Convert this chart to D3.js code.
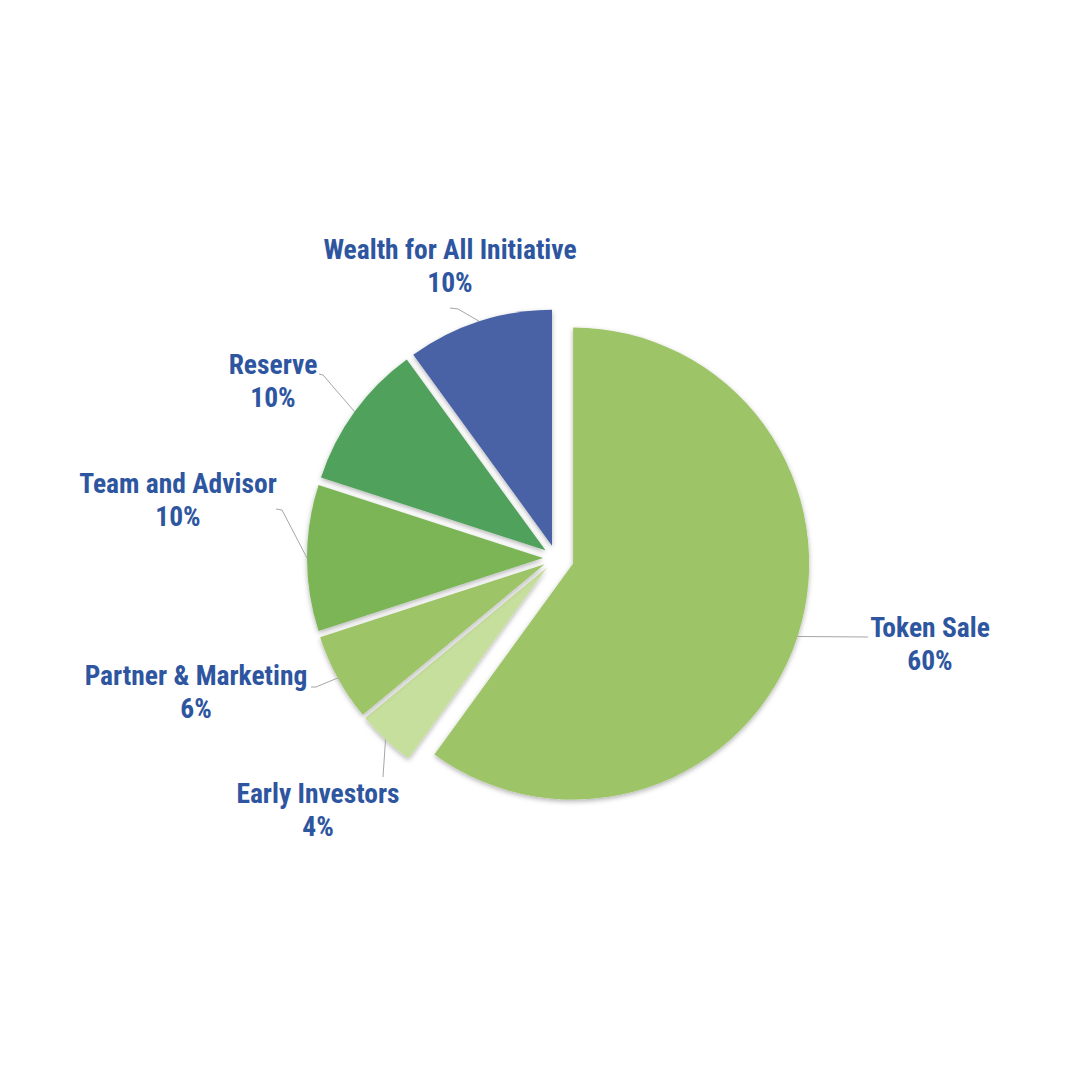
<!DOCTYPE html>
<html>
<head>
<meta charset="utf-8">
<script src="https://cdn.jsdelivr.net/npm/d3@7"></script>
<style>
  html, body { margin: 0; padding: 0; background: #fff; }
  text { font-family: "Liberation Sans Narrow", "Arial Narrow", "Roboto Condensed", sans-serif; font-weight: bold; }
</style>
</head>
<body>
<div id="chart"></div>
<script>
// Data
const categories = ['Token Sale', 'Early Investors', 'Partner & Marketing', 'Team and Advisor', 'Reserve', 'Wealth for All Initiative'];
const shares = [60, 4, 6, 10, 10, 10];
const pctLabels = ['60%', '4%', '6%', '10%', '10%', '10%'];
const colors = ['#9dc466', '#c6df9c', '#9dc466', '#7cb557', '#4fa15c', '#4862a6'];

// Layout (positions only)
const width = 1076;
const height = 1076;
const cx = 556, cy = 558;
const radius = 236;
const explode = [18, 13, 13, 13, 13, 13];
// text centre x, first baseline y, leader end near label, elbow
const labelLayout = [
  { x: 930, y: 637, end: [868, 637], elbow: null },
  { x: 318, y: 803, end: [383, 777], elbow: null },
  { x: 196, y: 685, end: [311, 687], elbow: [316, 687] },
  { x: 178, y: 493, end: [276, 509], elbow: [282, 510] },
  { x: 273, y: 374, end: [319, 374], elbow: [323, 375] },
  { x: 450, y: 259, end: [450, 308], elbow: [458, 309] }
];
const lineGap = 33;
const textColor = '#2e56a0';

const svg = d3.select('#chart').append('svg')
  .attr('width', width)
  .attr('height', height);

const defs = svg.append('defs');
const shadow = defs.append('filter')
  .attr('id', 'shadow')
  .attr('x', '-20%').attr('y', '-20%')
  .attr('width', '140%').attr('height', '140%');
shadow.append('feDropShadow')
  .attr('dx', 0).attr('dy', 2)
  .attr('stdDeviation', 2.5)
  .attr('flood-color', '#000')
  .attr('flood-opacity', 0.3);

const pie = d3.pie().sort(null).value(d => d);
const arcs = pie(shares);

const arcGen = d3.arc().innerRadius(0).outerRadius(radius);

// offset of each slice along its bisector
const offsetOf = (d, i) => {
  const mid = (d.startAngle + d.endAngle) / 2;
  return [Math.sin(mid) * explode[i], -Math.cos(mid) * explode[i]];
};

const g = svg.append('g').attr('transform', `translate(${cx},${cy})`);

g.selectAll('path.slice')
  .data(arcs)
  .enter()
  .append('path')
  .attr('class', 'slice')
  .attr('d', arcGen)
  .attr('fill', (d, i) => colors[i])
  .attr('filter', 'url(#shadow)')
  .attr('transform', (d, i) => {
    const o = offsetOf(d, i);
    return `translate(${o[0]},${o[1]})`;
  });

// Leader lines start on the outer arc at the slice's bisector
const leader = d3.line();
svg.selectAll('path.leader')
  .data(arcs)
  .enter()
  .append('path')
  .attr('class', 'leader')
  .attr('fill', 'none')
  .attr('stroke', '#a6a6a6')
  .attr('stroke-width', 1)
  .attr('d', (d, i) => {
    const mid = (d.startAngle + d.endAngle) / 2;
    const o = offsetOf(d, i);
    const start = [cx + o[0] + Math.sin(mid) * radius, cy + o[1] - Math.cos(mid) * radius];
    const L = labelLayout[i];
    const pts = [start];
    if (L.elbow) pts.push(L.elbow);
    pts.push(L.end);
    return leader(pts);
  });

// Labels
const labels = svg.selectAll('text.label')
  .data(arcs)
  .enter()
  .append('text')
  .attr('class', 'label')
  .attr('text-anchor', 'middle')
  .attr('fill', textColor)
  .style('font-size', '27.5px');

labels.append('tspan')
  .attr('x', (d, i) => labelLayout[i].x)
  .attr('y', (d, i) => labelLayout[i].y)
  .text((d, i) => categories[i]);

labels.append('tspan')
  .attr('x', (d, i) => labelLayout[i].x)
  .attr('y', (d, i) => labelLayout[i].y + lineGap)
  .text((d, i) => pctLabels[i]);
</script>
</body>
</html>
